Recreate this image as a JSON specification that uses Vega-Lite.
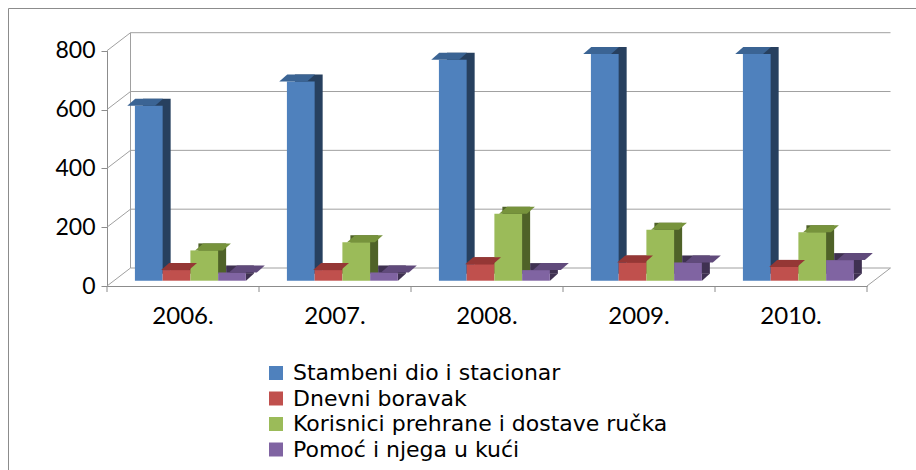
{
  "$schema": "https://vega.github.io/schema/vega-lite/v6.json",
  "width": 910,
  "height": 464,
  "autosize": "none",
  "padding": {"left": 8, "top": 8, "right": 0, "bottom": 0},
  "background": "white",
  "config": {
    "view": {"stroke": "#8c8c8c", "strokeWidth": 1},
    "font": "Lato"
  },
  "datasets": {
    "bars": [
      {"year": "2006.", "series": "Stambeni dio i stacionar", "value": 595},
      {"year": "2006.", "series": "Dnevni boravak", "value": 36},
      {"year": "2006.", "series": "Korisnici prehrane i dostave ručka", "value": 103},
      {"year": "2006.", "series": "Pomoć i njega u kući", "value": 28},
      {"year": "2007.", "series": "Stambeni dio i stacionar", "value": 677},
      {"year": "2007.", "series": "Dnevni boravak", "value": 36},
      {"year": "2007.", "series": "Korisnici prehrane i dostave ručka", "value": 131},
      {"year": "2007.", "series": "Pomoć i njega u kući", "value": 28},
      {"year": "2008.", "series": "Stambeni dio i stacionar", "value": 751},
      {"year": "2008.", "series": "Dnevni boravak", "value": 56},
      {"year": "2008.", "series": "Korisnici prehrane i dostave ručka", "value": 228},
      {"year": "2008.", "series": "Pomoć i njega u kući", "value": 36},
      {"year": "2009.", "series": "Stambeni dio i stacionar", "value": 771},
      {"year": "2009.", "series": "Dnevni boravak", "value": 62},
      {"year": "2009.", "series": "Korisnici prehrane i dostave ručka", "value": 173},
      {"year": "2009.", "series": "Pomoć i njega u kući", "value": 62},
      {"year": "2010.", "series": "Stambeni dio i stacionar", "value": 771},
      {"year": "2010.", "series": "Dnevni boravak", "value": 47},
      {"year": "2010.", "series": "Korisnici prehrane i dostave ručka", "value": 165},
      {"year": "2010.", "series": "Pomoć i njega u kući", "value": 70}
    ],
    "grid": [{"g": 0}, {"g": 200}, {"g": 400}, {"g": 600}, {"g": 800}],
    "years": [{"year": "2006."}, {"year": "2007."}, {"year": "2008."}, {"year": "2009."}, {"year": "2010."}]
  },
  "resolve": {"scale": {"color": "independent", "xOffset": "independent"}, "legend": {"color": "independent"}},
  "layer": [
    {
      "data": {"name": "grid"},
      "mark": {"type": "rule", "color": "#a0a0a0", "strokeWidth": 1, "xOffset": 23.5, "x2Offset": 23.5, "yOffset": -18, "y2Offset": -18},
      "encoding": {
        "x": {"datum": "2006.", "type": "nominal", "bandPosition": 0,
              "scale": {"type": "band", "domain": ["2006.", "2007.", "2008.", "2009.", "2010."], "range": [99, 859], "paddingInner": 0, "paddingOuter": 0}},
        "x2": {"datum": "2010.", "bandPosition": 1},
        "y": {"field": "g", "type": "quantitative",
              "scale": {"domain": [0, 800], "range": [278, 42.7], "nice": false, "zero": true},
              "axis": {"orient": "left", "offset": -99, "values": [0, 200, 400, 600, 800], "grid": false,
                       "domainColor": "#8c8c8c", "tickColor": "#8c8c8c", "tickSize": 6, "labelPadding": 6,
                       "labelFontSize": 23, "labelColor": "#000000", "title": null, "labelFont": "Lato"}},
        "y2": {"field": "g"}
      }
    },
    {
      "data": {"name": "grid"},
      "mark": {"type": "rule", "color": "#a0a0a0", "strokeWidth": 1, "x2Offset": 23.5, "y2Offset": -18},
      "encoding": {
        "x": {"datum": "2006.", "type": "nominal", "bandPosition": 0},
        "x2": {"datum": "2006.", "bandPosition": 0},
        "y": {"field": "g", "type": "quantitative"},
        "y2": {"field": "g"}
      }
    },
    {
      "data": {"values": [{"a": 0, "b": 800}]},
      "mark": {"type": "rule", "color": "#a0a0a0", "strokeWidth": 1, "xOffset": 23.5, "x2Offset": 23.5, "yOffset": -18, "y2Offset": -18},
      "encoding": {
        "x": {"datum": "2006.", "type": "nominal", "bandPosition": 0},
        "y": {"field": "a", "type": "quantitative"},
        "y2": {"field": "b"}
      }
    },
    {
      "data": {"values": [{"a": 0}]},
      "mark": {"type": "rule", "color": "#a0a0a0", "strokeWidth": 1, "x2Offset": 23.5, "y2Offset": -18},
      "encoding": {
        "x": {"datum": "2010.", "type": "nominal", "bandPosition": 1},
        "x2": {"datum": "2010.", "bandPosition": 1},
        "y": {"field": "a", "type": "quantitative"},
        "y2": {"field": "a"}
      }
    },
    {
      "data": {"name": "years"},
      "mark": {"type": "rule", "color": "#8c8c8c", "strokeWidth": 1, "y2Offset": 6},
      "encoding": {
        "x": {"field": "year", "type": "nominal", "bandPosition": 0},
        "y": {"datum": 0, "type": "quantitative"},
        "y2": {"datum": 0}
      }
    },
    {
      "data": {"values": [{"a": 0}]},
      "mark": {"type": "rule", "color": "#8c8c8c", "strokeWidth": 1, "y2Offset": 6},
      "encoding": {
        "x": {"datum": "2010.", "type": "nominal", "bandPosition": 1},
        "y": {"field": "a", "type": "quantitative"},
        "y2": {"field": "a"}
      }
    },
    {
      "data": {"name": "bars"},
      "mark": {"type": "bar", "yOffset": -12.3, "y2Offset": -12.3},
      "encoding": {
        "x": {"field": "year", "type": "nominal"},
        "xOffset": {"field": "series", "type": "nominal",
                    "scale": {"domain": ["Stambeni dio i stacionar", "Dnevni boravak", "Korisnici prehrane i dostave ručka", "Pomoć i njega u kući"], "paddingInner": 0, "paddingOuter": 0.74, "align": 0.875}},
        "y": {"field": "value", "type": "quantitative"},
        "color": {"field": "series", "type": "nominal", "legend": null,
                  "scale": {"domain": ["Stambeni dio i stacionar", "Dnevni boravak", "Korisnici prehrane i dostave ručka", "Pomoć i njega u kući"],
                            "range": ["#27405f", "#7e2e2c", "#4f6228", "#3f3151"]}}
      }
    },
    {
      "data": {"name": "years"},
      "mark": {"type": "point", "filled": true, "opacity": 1, "size": 4, "strokeWidth": 0, "yOffset": -5.3,
               "shape": "M-13,0L-13,-7.2L-5,-7.2Z", "color": "#3f3151"},
      "encoding": {
        "x": {"field": "year", "type": "nominal", "bandPosition": 1},
        "y": {"datum": 0, "type": "quantitative"}
      }
    },
    {
      "data": {"name": "bars"},
      "mark": {"type": "bar", "yOffset": -5.3, "y2Offset": -5.3},
      "encoding": {
        "x": {"field": "year", "type": "nominal",
              "axis": {"orient": "bottom", "offset": -186, "ticks": false, "domainColor": "#8c8c8c",
                       "labelPadding": 30, "labelFontSize": 24, "labelColor": "#000000", "labelAngle": 0,
                       "labelAlign": "center", "title": null, "labelFont": "Lato"}},
        "xOffset": {"field": "series", "type": "nominal",
                    "scale": {"domain": ["Stambeni dio i stacionar", "Dnevni boravak", "Korisnici prehrane i dostave ručka", "Pomoć i njega u kući"], "paddingInner": 0, "paddingOuter": 0.74, "align": 0.68}},
        "y": {"field": "value", "type": "quantitative"},
        "color": {"field": "series", "type": "nominal",
                  "scale": {"domain": ["Stambeni dio i stacionar", "Dnevni boravak", "Korisnici prehrane i dostave ručka", "Pomoć i njega u kući"],
                            "range": ["#4f81bd", "#c0504d", "#9bbb59", "#8064a2"]},
                  "legend": {"orient": "none", "legendX": 257, "legendY": 354, "title": null, "symbolType": "square",
                             "symbolSize": 196, "symbolStrokeWidth": 0, "labelFontSize": 22, "labelFont": "DejaVu Sans",
                             "labelColor": "#000000", "rowPadding": 3.5, "labelOffset": 6, "labelLimit": 600}}
      }
    },
    {
      "data": {"name": "bars"},
      "mark": {"type": "point", "filled": true, "opacity": 1, "size": 4, "strokeWidth": 0, "yOffset": -5.3,
               "shape": "M-13.9,0L13.9,0L21.9,-7L-5.9,-7Z"},
      "encoding": {
        "x": {"field": "year", "type": "nominal"},
        "xOffset": {"field": "series", "type": "nominal",
                    "scale": {"domain": ["Stambeni dio i stacionar", "Dnevni boravak", "Korisnici prehrane i dostave ručka", "Pomoć i njega u kući"], "paddingInner": 0, "paddingOuter": 0.74, "align": 0.68}},
        "y": {"field": "value", "type": "quantitative"},
        "color": {"field": "series", "type": "nominal", "legend": null,
                  "scale": {"domain": ["Stambeni dio i stacionar", "Dnevni boravak", "Korisnici prehrane i dostave ručka", "Pomoć i njega u kući"],
                            "range": ["#3b6494", "#953735", "#77933c", "#604a7b"]}}
      }
    }
  ]
}
